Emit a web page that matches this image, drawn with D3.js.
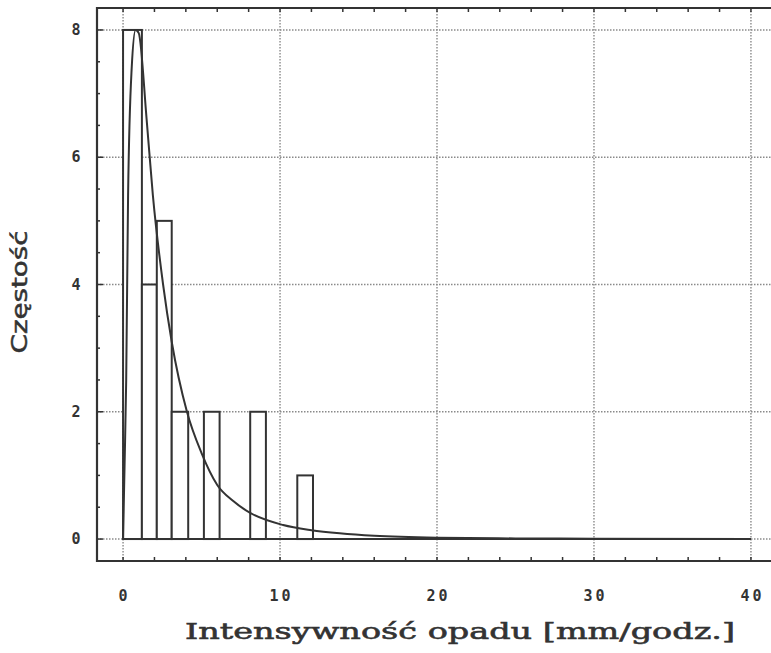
<!DOCTYPE html>
<html>
<head>
<meta charset="utf-8">
<script src="https://cdn.jsdelivr.net/npm/d3@7"></script>
<style>
  html, body { margin: 0; padding: 0; background: #fff; }
  svg { display: block; }
</style>
</head>
<body>
<svg id="chart" width="771" height="653"></svg>
<script>
// Histogram of rainfall intensity with a fitted density curve.
const binEdges = [0, 1.2, 2.15, 3.1, 4.15, 5.15, 6.15, 7.1, 8.1, 9.1, 10.1, 11.1, 12.1];
const binCounts = [8, 4, 5, 2, 0, 2, 0, 0, 2, 0, 0, 1];

const curveX = [0, 0.1, 0.2, 0.32, 0.55, 0.8, 1.0, 1.5, 1.9, 2.55, 3.1, 4.07, 5.0, 6.0, 7.0, 8.1, 10.2, 12.0, 13.8, 16, 20, 25, 30, 40];
const curveY = [0, 1.2, 2.5, 5.4, 7.4, 8.0, 7.95, 6.6, 5.4, 4.0, 3.1, 2.0, 1.35, 0.85, 0.6, 0.41, 0.22, 0.14, 0.09, 0.05, 0.02, 0.01, 0.005, 0.0];

const xTickValues = [0, 10, 20, 30, 40];
const yTickValues = [0, 2, 4, 6, 8];

const xTitle = "Intensywność opadu [mm/godz.]";
const yTitle = "Częstość";

const ink = "#333";
const svg = d3.select("#chart");

// plot frame
const frame = { left: 97, right: 777, top: 8, bottom: 561 };
const x = d3.scaleLinear().domain([-1.66, 41.66]).range([frame.left, frame.right]);
const y = d3.scaleLinear().domain([-0.345, 8.345]).range([frame.bottom, frame.top]);

// dotted grid
const grid = svg.append("g")
  .attr("stroke", "#8a8a8a")
  .attr("stroke-width", 1.4)
  .attr("stroke-dasharray", "1.5,1.5");
grid.selectAll("line.gx").data(xTickValues).join("line")
  .attr("x1", d => x(d)).attr("x2", d => x(d))
  .attr("y1", frame.top).attr("y2", frame.bottom);
grid.selectAll("line.gy").data(yTickValues).join("line")
  .attr("x1", frame.left).attr("x2", frame.right)
  .attr("y1", d => y(d)).attr("y2", d => y(d));

// histogram bars
const bins = binCounts.map((c, i) => ({ lo: binEdges[i], hi: binEdges[i + 1], count: c }));
svg.append("g")
  .selectAll("rect")
  .data(bins.filter(b => b.count > 0))
  .join("rect")
  .attr("x", d => x(d.lo))
  .attr("y", d => y(d.count))
  .attr("width", d => x(d.hi) - x(d.lo))
  .attr("height", d => y(0) - y(d.count))
  .attr("fill", "#fff")
  .attr("stroke", ink)
  .attr("stroke-width", 2);

// baseline at zero
svg.append("line")
  .attr("x1", x(0)).attr("x2", x(40))
  .attr("y1", y(0)).attr("y2", y(0))
  .attr("stroke", ink).attr("stroke-width", 2);

// fitted curve
const pts = curveX.map((v, i) => [v, curveY[i]]);
svg.append("path")
  .datum(pts)
  .attr("fill", "none")
  .attr("stroke", ink)
  .attr("stroke-width", 2)
  .attr("d", d3.line().x(d => x(d[0])).y(d => y(d[1])).curve(d3.curveMonotoneX));

// frame
const fr = svg.append("g").attr("stroke", ink).attr("stroke-width", 2.2).attr("fill", "none");
fr.append("path").attr("d", `M${frame.right},${frame.top}H${frame.left}V${frame.bottom}H${frame.right}`);

// minor ticks on the frame
const xMinor = d3.range(0, 41, 2);
fr.selectAll("line.bt").data(xMinor).join("line")
  .attr("stroke-width", 1.5)
  .attr("x1", d => x(d)).attr("x2", d => x(d))
  .attr("y1", frame.bottom).attr("y2", frame.bottom - 4);
fr.selectAll("line.tt").data(xMinor).join("line")
  .attr("stroke-width", 1.5)
  .attr("x1", d => x(d)).attr("x2", d => x(d))
  .attr("y1", frame.top).attr("y2", frame.top + 4);
const yMinor = d3.range(0, 8.01, 0.5);
fr.selectAll("line.lt").data(yMinor).join("line")
  .attr("stroke-width", 1.5)
  .attr("x1", frame.left).attr("x2", d => frame.left + (d % 2 === 0 ? 6 : 3))
  .attr("y1", d => y(d)).attr("y2", d => y(d));

// tick labels
const tickFont = "'DejaVu Sans Mono', monospace";
const tickGap = 3;
svg.append("g").selectAll("text").data(xTickValues).join("text")
  .attr("x", d => x(d) + tickGap / 2)
  .attr("y", 601)
  .attr("text-anchor", "middle")
  .attr("font-family", tickFont)
  .attr("font-weight", "bold")
  .attr("font-size", 15)
  .attr("letter-spacing", tickGap)
  .attr("fill", ink)
  .text(d => d);
svg.append("g").selectAll("text").data(yTickValues).join("text")
  .attr("x", 76)
  .attr("y", d => y(d) + 5)
  .attr("text-anchor", "middle")
  .attr("font-family", tickFont)
  .attr("font-weight", "bold")
  .attr("font-size", 15)
  .attr("fill", ink)
  .text(d => d);

// axis titles
svg.append("text")
  .attr("x", 185).attr("y", 639)
  .attr("font-family", "'DejaVu Serif', serif")
  .attr("font-size", 23)
  .attr("fill", ink)
  .attr("stroke", ink)
  .attr("stroke-width", 0.6)
  .attr("textLength", 550)
  .attr("lengthAdjust", "spacingAndGlyphs")
  .text(xTitle);

svg.append("text")
  .attr("transform", "translate(27,292) rotate(-90)")
  .attr("text-anchor", "middle")
  .attr("font-family", "'DejaVu Sans', sans-serif")
  .attr("font-size", 21)
  .attr("fill", ink)
  .attr("stroke", ink)
  .attr("stroke-width", 0.5)
  .attr("textLength", 123)
  .attr("lengthAdjust", "spacingAndGlyphs")
  .text(yTitle);
</script>
</body>
</html>
